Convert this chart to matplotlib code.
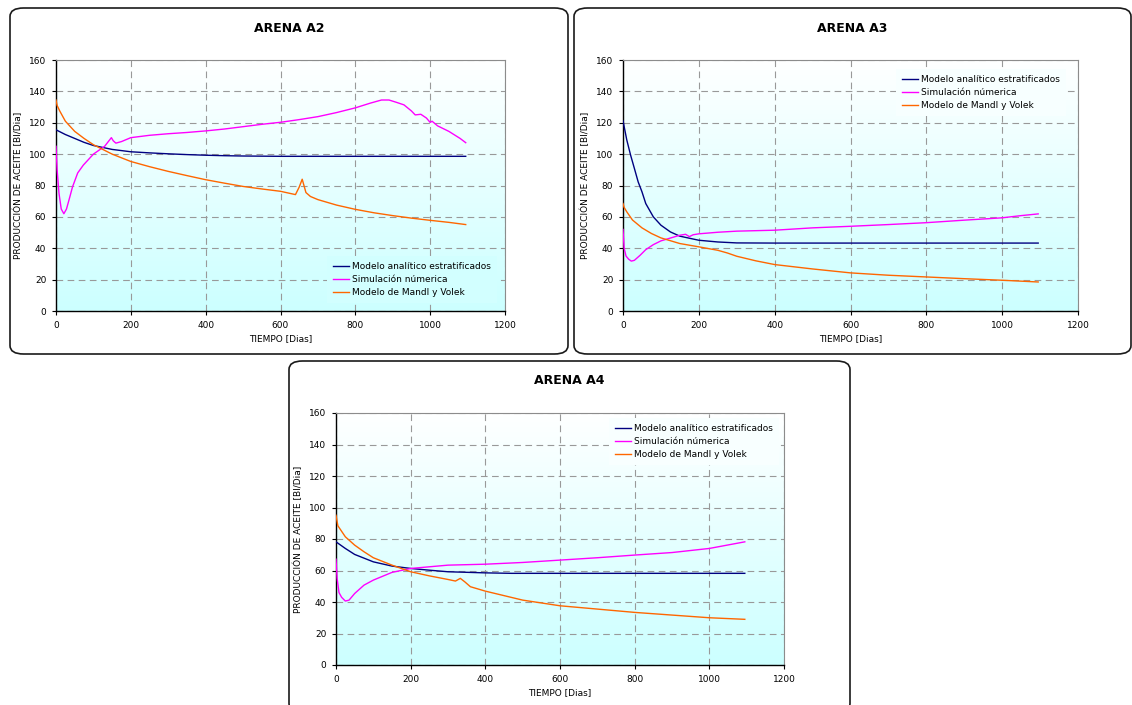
import numpy as np
import matplotlib
matplotlib.use("Agg")
import matplotlib.pyplot as plt
from matplotlib.patches import FancyBboxPatch
from matplotlib.colors import LinearSegmentedColormap

W, H = 1132, 705

SERIES_NAMES = ["Modelo analítico estratificados", "Simulación númerica", "Modelo de Mandl y Volek"]
COLORS = ["#000080", "#FF00FF", "#FF6600"]

# ARENA A2
A2_T_ANALITICO = [0, 25, 50, 75, 100, 150, 200, 250, 300, 350, 400, 450, 500, 600, 800, 1000, 1095]
A2_ANALITICO = [115.5, 112.5, 110, 107.5, 105.5, 103, 101.5, 100.8, 100.2, 99.7, 99.3, 99, 98.8, 98.6, 98.6, 98.6, 98.6]
A2_T_SIMULACION = [0, 3, 8, 14, 21, 28, 35, 44, 58, 73, 100, 130, 148, 153, 160, 175, 200, 250, 300, 350,
                   400, 450, 500, 550, 600, 650, 700, 750, 800, 840, 870, 890, 910, 930, 950, 960, 975, 990,
                   1000, 1005, 1020, 1050, 1080, 1095]
A2_SIMULACION = [105, 90, 75, 65, 62, 65, 71, 79, 88, 93, 100, 105, 110.5, 108.5, 107, 108, 110.5, 112, 113, 113.8,
                 114.8, 116, 117.5, 119, 120.3, 122, 123.9, 126.5, 129.5, 132.5, 134.5, 134.5, 133, 131.4, 127.5,
                 125, 125.4, 123, 120.2, 121, 118, 114.5, 110, 107.3]
A2_T_MANDL = [0, 3, 10, 25, 50, 75, 100, 150, 200, 250, 300, 350, 400, 450, 500, 550, 600, 640, 650, 658,
              668, 680, 700, 750, 800, 850, 900, 950, 1000, 1050, 1095]
A2_MANDL = [134.5, 131, 127.5, 121, 114.5, 110, 106, 100, 95.3, 92, 89, 86.3, 83.7, 81.5, 79.4, 77.8, 76.3,
            74.2, 79, 84, 75.5, 73, 71, 67.5, 64.8, 62.6, 60.8, 59.2, 57.8, 56.5, 55.1]

# ARENA A3
A3_T_ANALITICO = [0, 10, 20, 30, 40, 50, 60, 80, 100, 125, 150, 200, 250, 300, 400, 600, 800, 1000, 1095]
A3_ANALITICO = [121.3, 109, 99.4, 90.9, 82.3, 76, 68.5, 60, 54.7, 50.4, 47.7, 45.1, 44, 43.4, 43.3, 43.3, 43.3, 43.3, 43.3]
A3_T_SIMULACION = [0, 3, 8, 15, 22, 30, 45, 60, 80, 100, 125, 150, 165, 175, 185, 200, 250, 300, 400, 500,
                   600, 700, 800, 900, 1000, 1050, 1095]
A3_SIMULACION = [52, 40, 35, 33, 31.8, 32.3, 35.5, 39.1, 42.3, 44.7, 46.5, 48.3, 48.9, 47.4, 48.6, 49.2, 50.2,
                 50.9, 51.5, 53, 54, 55.1, 56.3, 57.9, 59.4, 60.8, 61.9]
A3_T_MANDL = [0, 3, 10, 25, 50, 75, 100, 150, 200, 250, 275, 300, 350, 400, 500, 600, 700, 800, 900, 1000, 1095]
A3_MANDL = [68.5, 66, 63.2, 58, 53, 49.4, 46.6, 43, 40.9, 38.7, 37, 34.9, 32, 29.6, 26.8, 24.3, 22.8, 21.7,
            20.6, 19.6, 18.5]

# ARENA A4
A4_T_ANALITICO = [0, 25, 50, 100, 150, 200, 250, 300, 400, 470, 600, 800, 1000, 1095]
A4_ANALITICO = [78.2, 74, 70.2, 65.5, 62.8, 61.3, 60.2, 59.2, 58.5, 58.2, 58.2, 58.2, 58.2, 58.2]
A4_T_SIMULACION = [0, 3, 8, 15, 25, 35, 50, 75, 100, 150, 200, 300, 400, 500, 600, 700, 800, 900, 1000, 1095]
A4_SIMULACION = [67.2, 55, 46, 43, 40.6, 41.2, 45.4, 50.7, 53.9, 58.8, 61.3, 63.4, 64, 65.1, 66.6, 68.1,
                 69.8, 71.4, 74, 78.2]
A4_T_MANDL = [0, 5, 25, 50, 75, 100, 150, 200, 250, 300, 320, 333, 345, 360, 400, 500, 600, 700, 800, 900,
              1000, 1095]
A4_MANDL = [95.1, 88.4, 81.4, 76.1, 71.9, 68.1, 63.4, 59.2, 56.6, 54.3, 53.3, 55, 52.8, 49.7, 46.9, 41.2,
            37.6, 35.5, 33.4, 31.7, 30, 29]

X_TICKS = [0, 200, 400, 600, 800, 1000, 1200]
Y_TICKS = [0, 20, 40, 60, 80, 100, 120, 140, 160]

plt.rcParams["font.family"] = ["DejaVu Sans"]
FS = 6.5
LEG_PAD = 0.7  # legend border pad, in font units

fig = plt.figure(figsize=(W / 100, H / 100), dpi=100)
fig.patch.set_facecolor("white")

grad_cmap = LinearSegmentedColormap.from_list("bg", ["#CCFFFF", "#FFFFFF"])


def px_rect(x0, y0, x1, y1):
    # pixel box (top-left origin) -> figure fraction rect
    return [x0 / W, 1 - y1 / H, (x1 - x0) / W, (y1 - y0) / H]


def draw_panel(title, box, axrect, series, legend_pos, legend_mid):
    bx0, by0, bx1, by1 = box
    frame = FancyBboxPatch((bx0 / W, 1 - by1 / H), (bx1 - bx0) / W, (by1 - by0) / H,
                           boxstyle="round,pad=0,rounding_size=0.012",
                           transform=fig.transFigure, facecolor="none",
                           edgecolor="#1a1a1a", linewidth=1.2, zorder=5)
    fig.patches.append(frame)
    fig.text((bx0 + bx1) / 2 / W, 1 - (by0 + 20) / H, title, ha="center", va="center",
             fontsize=9, fontweight="bold")

    ax = fig.add_axes(px_rect(*axrect))
    ax.set_facecolor("none")
    grad = np.linspace(0, 1, 256).reshape(-1, 1)
    ax.imshow(grad, extent=[0, 1, 0, 1], transform=ax.transAxes, cmap=grad_cmap,
              aspect="auto", origin="lower", zorder=0)

    for (t, v), name, color in zip(series, SERIES_NAMES, COLORS):
        ax.plot(t, v, color=color, linewidth=1.0, label=name, zorder=3)

    ax.set_xlim(0, 1200)
    ax.set_ylim(0, 160)
    ax.set_xticks(X_TICKS)
    ax.set_yticks(Y_TICKS)
    ax.grid(True, color="#999999", linestyle=(0, (6, 4)), linewidth=0.8, zorder=1)
    ax.set_axisbelow(True)
    for side in ["top", "right"]:
        ax.spines[side].set_color("#8c8c8c")
        ax.spines[side].set_linewidth(0.8)
    for side in ["left", "bottom"]:
        ax.spines[side].set_color("black")
        ax.spines[side].set_linewidth(1.0)
    ax.tick_params(direction="out", length=3, width=0.8, labelsize=FS, pad=4)
    ax.set_xlabel("TIEMPO [Dias]", fontsize=FS, labelpad=3)
    ax.set_ylabel("PRODUCCIÓN DE ACEITE [Bl/Dia]", fontsize=FS, labelpad=4)

    # legend box filled with the local background colour so the grid is hidden behind it
    pad_px = LEG_PAD * FS * 100 / 72
    lx, ly = legend_pos
    lx, ly = lx - pad_px, ly - pad_px
    ax_x0, ax_y0, ax_x1, ax_y1 = axrect
    leg = ax.legend(loc="upper left",
                    bbox_to_anchor=((lx - ax_x0) / (ax_x1 - ax_x0), (ax_y1 - ly) / (ax_y1 - ax_y0)),
                    frameon=True, fancybox=False, fontsize=FS, handlelength=1.8, handletextpad=0.25,
                    borderpad=LEG_PAD, borderaxespad=0, labelspacing=0.45)
    leg.get_frame().set_facecolor(grad_cmap(legend_mid))
    leg.get_frame().set_edgecolor("none")
    leg.get_frame().set_alpha(1.0)
    return ax


draw_panel("ARENA A2", (10, 8, 568, 354), (56, 60, 505, 311),
           [(A2_T_ANALITICO, A2_ANALITICO), (A2_T_SIMULACION, A2_SIMULACION), (A2_T_MANDL, A2_MANDL)],
           (333, 262), 0.12)
draw_panel("ARENA A3", (574, 8, 1131, 354), (623, 60, 1078, 311),
           [(A3_T_ANALITICO, A3_ANALITICO), (A3_T_SIMULACION, A3_SIMULACION), (A3_T_MANDL, A3_MANDL)],
           (902, 75), 0.85)
draw_panel("ARENA A4", (289, 361, 850, 712), (336, 413, 784, 665),
           [(A4_T_ANALITICO, A4_ANALITICO), (A4_T_SIMULACION, A4_SIMULACION), (A4_T_MANDL, A4_MANDL)],
           (615, 424), 0.86)

fig.savefig("out.png", dpi=100)
